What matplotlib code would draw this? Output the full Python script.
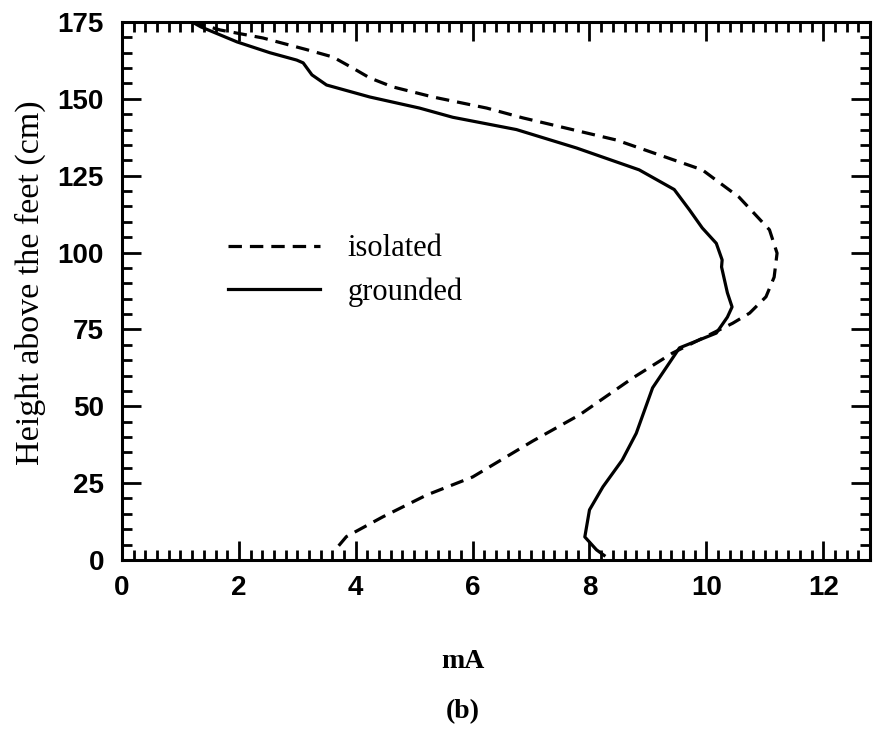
#Needed libraries
import numpy as np
import matplotlib.pyplot as plt
from matplotlib.ticker import MultipleLocator

#Data (x = current in mA, y = height in cm)
grounded_mA = [1.2, 1.35, 1.97, 2.53, 2.99, 3.1, 3.25, 3.5, 4.24, 5.09, 5.66, 6.75,
               7.78, 8.85, 9.45, 9.71, 9.93, 10.17, 10.27, 10.26, 10.36, 10.44,
               10.36, 10.17, 9.54, 9.08, 8.8, 8.56, 8.23, 8.0, 7.92, 8.12, 8.25]
grounded_h = [175, 173.4, 168.5, 165, 162.6, 161.7, 157.8, 154.5, 150.6, 147, 144, 140,
              134, 126.9, 120.5, 113.9, 108, 103, 97.6, 95.3, 86.9, 82.3,
              79, 73.8, 69, 56, 41.2, 32.5, 23.8, 16.3, 7.5, 3.3, 1.5]

isolated_mA = [1.2, 1.68, 2.41, 3.16, 3.61, 3.95, 4.24, 4.63, 5.32, 6.24, 6.86, 8.46,
               9.93, 10.56, 11.08, 11.21, 11.16, 11.02, 10.74, 10.45, 9.42, 8.74,
               7.83, 7.03, 6.0, 5.21, 4.46, 3.84, 3.68]
isolated_h = [175, 172.4, 169.8, 166, 163.6, 160, 156.8, 153.9, 150.6, 147, 143.8, 136.6,
              126.9, 118, 107.4, 99.8, 92, 85.6, 80.3, 77, 67.3, 59.2,
              47.2, 38.7, 27, 21.1, 14, 7.6, 4]

xticks = [0, 2, 4, 6, 8, 10, 12]
yticks = [0, 25, 50, 75, 100, 125, 150, 175]

#Style variables
lwidth = 2.3
serif = "Liberation Serif"
sans = "Liberation Sans"

fig = plt.figure(figsize=(8.74, 7.3), dpi=100)
ax = fig.add_axes([0.1396, 0.2329, 0.8558, 0.7370])

#Plotting
ax.plot(isolated_mA, isolated_h, color="black", linewidth=lwidth,
        linestyle=(0, (4.2, 2.5)), label="isolated")
ax.plot(grounded_mA, grounded_h, color="black", linewidth=lwidth,
        linestyle="solid", label="grounded")

ax.set_xlim(0, 12.8)
ax.set_ylim(0, 175)
ax.set_xticks(xticks)
ax.set_yticks(yticks)
ax.xaxis.set_minor_locator(MultipleLocator(0.2))
ax.yaxis.set_minor_locator(MultipleLocator(5))

#Ticks on every side pointing in
ax.tick_params(which="both", direction="in", top=True, right=True, width=2, color="black")
ax.tick_params(which="major", length=14)
ax.tick_params(which="minor", length=7)
ax.tick_params(axis="x", which="major", pad=11)
ax.tick_params(axis="y", which="major", pad=13)
for lab in ax.get_xticklabels() + ax.get_yticklabels():
    lab.set_fontfamily(sans)
    lab.set_fontweight("bold")
    lab.set_fontsize(20)
for sp in ax.spines.values():
    sp.set_linewidth(2.2)

#Labels
ax.set_ylabel("Height above the feet (cm)", fontfamily=serif, fontsize=24.5)
ax.yaxis.set_label_coords(-0.102, 0.515)
ax.set_xlabel("mA", fontfamily=serif, fontweight="bold", fontsize=20)
ax.xaxis.set_label_coords(0.456, -0.165)
fig.text(0.53, 0.008, "(b)", fontfamily=serif, fontweight="bold", fontsize=20,
         ha="center", va="bottom")

#Legend
ax.legend(loc="upper left", bbox_to_anchor=(0.142, 0.605), frameon=False,
          prop={"family": serif, "size": 22}, handlelength=3.0,
          handletextpad=0.9, labelspacing=0.45, borderpad=0, borderaxespad=0)

plt.savefig("out.png", dpi=100)
